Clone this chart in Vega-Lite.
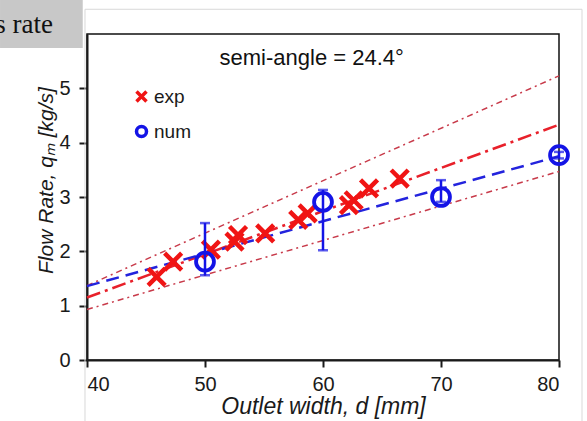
{
  "$schema": "https://vega.github.io/schema/vega-lite/v6.json",
  "width": 472,
  "height": 326,
  "autosize": {"type": "none"},
  "padding": {"left": 87, "top": 34, "right": 28, "bottom": 61},
  "background": "white",
  "config": {
    "view": {"stroke": "#111111", "strokeWidth": 1.5},
    "legend": {
      "labelFont": "Liberation Sans",
      "labelFontSize": 19,
      "labelColor": "#1a1a1a",
      "symbolSize": 100,
      "symbolStrokeWidth": 3.5,
      "rowPadding": 10,
      "padding": 0,
      "labelOffset": 3
    }
  },
  "datasets": {
    "fits": [
      {"fit": "upper", "d": 40, "q": 1.37},
      {"fit": "upper", "d": 80, "q": 5.23},
      {"fit": "lower", "d": 40, "q": 0.93},
      {"fit": "lower", "d": 80, "q": 3.47},
      {"fit": "expfit", "d": 40, "q": 1.15},
      {"fit": "expfit", "d": 80, "q": 4.33},
      {"fit": "numfit", "d": 40, "q": 1.36},
      {"fit": "numfit", "d": 80, "q": 3.75}
    ],
    "exp": [
      {"series": "exp", "d": 45.9, "q": 1.53},
      {"series": "exp", "d": 47.3, "q": 1.81},
      {"series": "exp", "d": 50.5, "q": 2.03},
      {"series": "exp", "d": 52.5, "q": 2.18},
      {"series": "exp", "d": 52.8, "q": 2.30},
      {"series": "exp", "d": 55.1, "q": 2.33},
      {"series": "exp", "d": 57.9, "q": 2.58},
      {"series": "exp", "d": 58.7, "q": 2.70},
      {"series": "exp", "d": 62.2, "q": 2.85},
      {"series": "exp", "d": 62.6, "q": 2.94},
      {"series": "exp", "d": 63.9, "q": 3.16},
      {"series": "exp", "d": 66.5, "q": 3.34}
    ],
    "num": [
      {"series": "num", "d": 50, "q": 1.81, "lo": 1.56, "hi": 2.52},
      {"series": "num", "d": 60, "q": 2.91, "lo": 2.02, "hi": 3.13},
      {"series": "num", "d": 70, "q": 3.00, "lo": 2.91, "hi": 3.31},
      {"series": "num", "d": 80, "q": 3.77, "lo": 3.71, "hi": 3.83}
    ],
    "one": [{}]
  },
  "layer": [
    {
      "data": {"name": "fits"},
      "transform": [{"filter": "datum.fit === 'upper' || datum.fit === 'lower'"}],
      "mark": {"type": "line", "color": "#c83a4a", "strokeWidth": 1.5, "strokeDash": [6, 4, 2, 4]},
      "encoding": {
        "detail": {"field": "fit"},
        "x": {
          "field": "d", "type": "quantitative", "title": "Outlet width, d [mm]",
          "scale": {"domain": [40, 80], "nice": false, "zero": false},
          "axis": {
            "values": [40, 50, 60, 70, 80], "format": "d", "grid": false,
            "domainColor": "#1a1a1a", "domainWidth": 2, "tickColor": "#1a1a1a", "tickWidth": 2, "tickSize": 7,
            "labelFont": "Liberation Sans", "labelFontSize": 20, "labelColor": "#1a1a1a", "labelPadding": 7,
            "titleFont": "Liberation Sans", "titleFontStyle": "italic", "titleFontWeight": "normal", "titleColor": "#1a1a1a",
            "titleFontSize": 23, "titleY": 53, "titleBaseline": "alphabetic"
          }
        },
        "y": {
          "field": "q", "type": "quantitative", "title": "Flow Rate, qₘ [kg/s]",
          "scale": {"domain": [0, 6], "nice": false},
          "axis": {
            "values": [0, 1, 2, 3, 4, 5], "format": "d", "grid": false,
            "domainColor": "#1a1a1a", "domainWidth": 2, "tickColor": "#1a1a1a", "tickWidth": 2, "tickSize": 8,
            "labelFont": "Liberation Sans", "labelFontSize": 20, "labelColor": "#1a1a1a", "labelPadding": 9,
            "titleFont": "Liberation Sans", "titleFontStyle": "italic", "titleFontWeight": "normal", "titleColor": "#1a1a1a",
            "titleFontSize": 21, "titleX": -35, "titleY": 146, "titleBaseline": "alphabetic", "titleAlign": "center", "titleAngle": -90
          }
        }
      }
    },
    {
      "data": {"name": "fits"},
      "transform": [{"filter": "datum.fit === 'expfit'"}],
      "mark": {"type": "line", "color": "#e8202a", "strokeWidth": 2.5, "strokeDash": [14, 5, 3, 5]},
      "encoding": {
        "x": {"field": "d", "type": "quantitative", "title": "Outlet width, d [mm]"},
        "y": {"field": "q", "type": "quantitative", "title": "Flow Rate, qₘ [kg/s]"}
      }
    },
    {
      "data": {"name": "fits"},
      "transform": [{"filter": "datum.fit === 'numfit'"}],
      "mark": {"type": "line", "color": "#2323dd", "strokeWidth": 2.5, "strokeDash": [13, 7]},
      "encoding": {
        "x": {"field": "d", "type": "quantitative", "title": "Outlet width, d [mm]"},
        "y": {"field": "q", "type": "quantitative", "title": "Flow Rate, qₘ [kg/s]"}
      }
    },
    {
      "data": {"name": "exp"},
      "mark": {"type": "point", "filled": false, "strokeWidth": 4.5, "size": 290, "opacity": 1},
      "encoding": {
        "x": {"field": "d", "type": "quantitative", "title": "Outlet width, d [mm]"},
        "y": {"field": "q", "type": "quantitative", "title": "Flow Rate, qₘ [kg/s]"},
        "color": {"field": "series", "type": "nominal", "scale": {"domain": ["exp", "num"], "range": ["#f01414", "#1414e6"]}, "legend": {"title": null, "orient": "none", "legendX": 45, "legendY": 53}},
        "shape": {"field": "series", "type": "nominal", "scale": {"domain": ["exp", "num"], "range": ["M-1,-1L1,1M-1,1L1,-1", "circle"]}, "legend": {"title": null, "orient": "none", "legendX": 45, "legendY": 53}}
      }
    },
    {
      "data": {"name": "num"},
      "mark": {"type": "errorbar", "color": "#1414e6", "thickness": 2.5, "ticks": {"size": 10, "thickness": 2.5, "color": "#1414e6"}},
      "encoding": {
        "x": {"field": "d", "type": "quantitative", "title": "Outlet width, d [mm]"},
        "y": {"field": "lo", "type": "quantitative", "title": "Flow Rate, qₘ [kg/s]"},
        "y2": {"field": "hi"}
      }
    },
    {
      "data": {"name": "num"},
      "mark": {"type": "point", "filled": false, "strokeWidth": 3.8, "size": 320, "opacity": 1},
      "encoding": {
        "x": {"field": "d", "type": "quantitative", "title": "Outlet width, d [mm]"},
        "y": {"field": "q", "type": "quantitative", "title": "Flow Rate, qₘ [kg/s]"},
        "color": {"field": "series", "type": "nominal"},
        "shape": {"field": "series", "type": "nominal"}
      }
    },
    {
      "data": {"name": "one"},
      "mark": {"type": "text", "text": "semi-angle = 24.4°", "font": "Liberation Sans", "fontSize": 22, "align": "center", "baseline": "alphabetic", "color": "#111111"},
      "encoding": {
        "x": {"datum": 59.04, "type": "quantitative"},
        "y": {"datum": 5.43, "type": "quantitative"}
      }
    },
    {
      "data": {"name": "one"},
      "mark": {"type": "rect", "fill": "#c8c8c8", "clip": false},
      "encoding": {
        "x": {"datum": 32.63, "type": "quantitative"},
        "x2": {"datum": 39.64},
        "y": {"datum": 6.626, "type": "quantitative"},
        "y2": {"datum": 5.743}
      }
    },
    {
      "data": {"name": "one"},
      "mark": {"type": "rect", "filled": false, "stroke": "#d9d9d9", "strokeWidth": 1, "clip": false},
      "encoding": {
        "x": {"datum": 39.83, "type": "quantitative"},
        "x2": {"datum": 81.95},
        "y": {"datum": 6.455, "type": "quantitative"},
        "y2": {"datum": -1.6}
      }
    },
    {
      "data": {"name": "one"},
      "mark": {"type": "text", "text": "s rate", "font": "Liberation Serif", "fontSize": 27, "align": "right", "baseline": "alphabetic", "color": "#111111", "clip": false},
      "encoding": {
        "x": {"datum": 37.12, "type": "quantitative"},
        "y": {"datum": 6.013, "type": "quantitative"}
      }
    }
  ]
}
